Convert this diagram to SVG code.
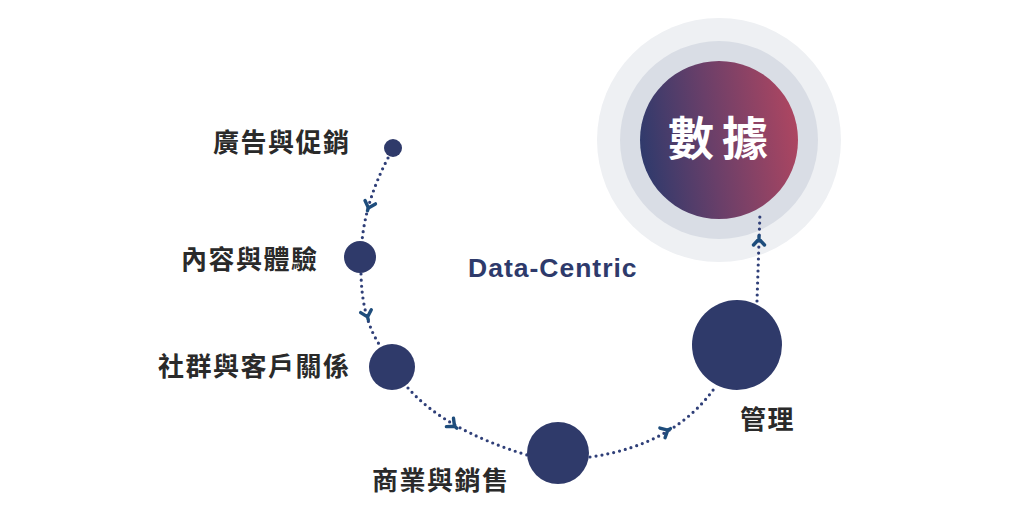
<svg xmlns="http://www.w3.org/2000/svg" width="1024" height="512" viewBox="0 0 1024 512">
<defs>
<linearGradient id="g" x1="0" y1="0.55" x2="1" y2="0.4">
<stop offset="0" stop-color="#2f3a6c"/>
<stop offset="0.45" stop-color="#6a3f69"/>
<stop offset="1" stop-color="#ae4661"/>
</linearGradient>
<path id="chev" d="M-5.5,-4 L0,2 L5.5,-4 M0,2 L0,5"/>
</defs>
<style>
.node{fill:#2f3a6a}
.lbl{font-family:"Noto Sans CJK TC","Noto Sans CJK SC",sans-serif;font-weight:700;font-size:26px;letter-spacing:1.5px;fill:#2a2a2a}
.dot{fill:none;stroke:#2f3f78;stroke-width:3.2;stroke-linecap:round;stroke-dasharray:0 6}
.arr{fill:none;stroke:#1e4d7c;stroke-width:3.4;stroke-linecap:round;stroke-linejoin:round}
</style>
<rect width="1024" height="512" fill="#ffffff"/>
<g id="data-hub">
<circle cx="719" cy="140" r="122" fill="#eef0f3"/>
<circle cx="719" cy="140" r="99" fill="#d9dde5"/>
<circle cx="719" cy="140" r="79" fill="url(#g)"/>
<text x="668" y="155" font-family="Noto Sans CJK TC,Noto Sans CJK SC,sans-serif" font-weight="700" font-size="46" letter-spacing="8" fill="#ffffff">數據</text>
</g>
<g id="connectors">
<path class="dot" d="M388,158 Q366,200 362,241"/>
<path class="dot" d="M361,274 Q362,320 381,347"/>
<path class="dot" d="M408,388 Q445,430 527,455"/>
<path class="dot" d="M590,457 Q675,445 716,386"/>
<path class="dot" d="M757,301 L760,212"/>
<use href="#chev" class="arr" transform="translate(369,206) rotate(18)"/>
<use href="#chev" class="arr" transform="translate(367,315) rotate(-15)"/>
<use href="#chev" class="arr" transform="translate(453,425) rotate(-50)"/>
<use href="#chev" class="arr" transform="translate(666,431) rotate(-118)"/>
<use href="#chev" class="arr" transform="translate(759,241) rotate(180)"/>
</g>
<g id="node-ads">
<circle class="node" cx="393" cy="148" r="9"/>
<text class="lbl" x="213" y="152">廣告與促銷</text>
</g>
<g id="node-content">
<circle class="node" cx="360" cy="257" r="16"/>
<text class="lbl" x="181" y="269">內容與體驗</text>
</g>
<g id="node-social">
<circle class="node" cx="392" cy="367" r="23"/>
<text class="lbl" x="158" y="376">社群與客戶關係</text>
</g>
<g id="node-commerce">
<circle class="node" cx="558" cy="453" r="31"/>
<text class="lbl" x="372" y="490">商業與銷售</text>
</g>
<g id="node-manage">
<circle class="node" cx="737" cy="345" r="45"/>
<text class="lbl" x="740" y="429">管理</text>
</g>
<g id="label-datacentric">
<text x="468" y="277" font-family="Liberation Sans,Arial,sans-serif" font-weight="700" font-size="26.5" letter-spacing="1" fill="#2e3a6b">Data-Centric</text>
</g>
</svg>
